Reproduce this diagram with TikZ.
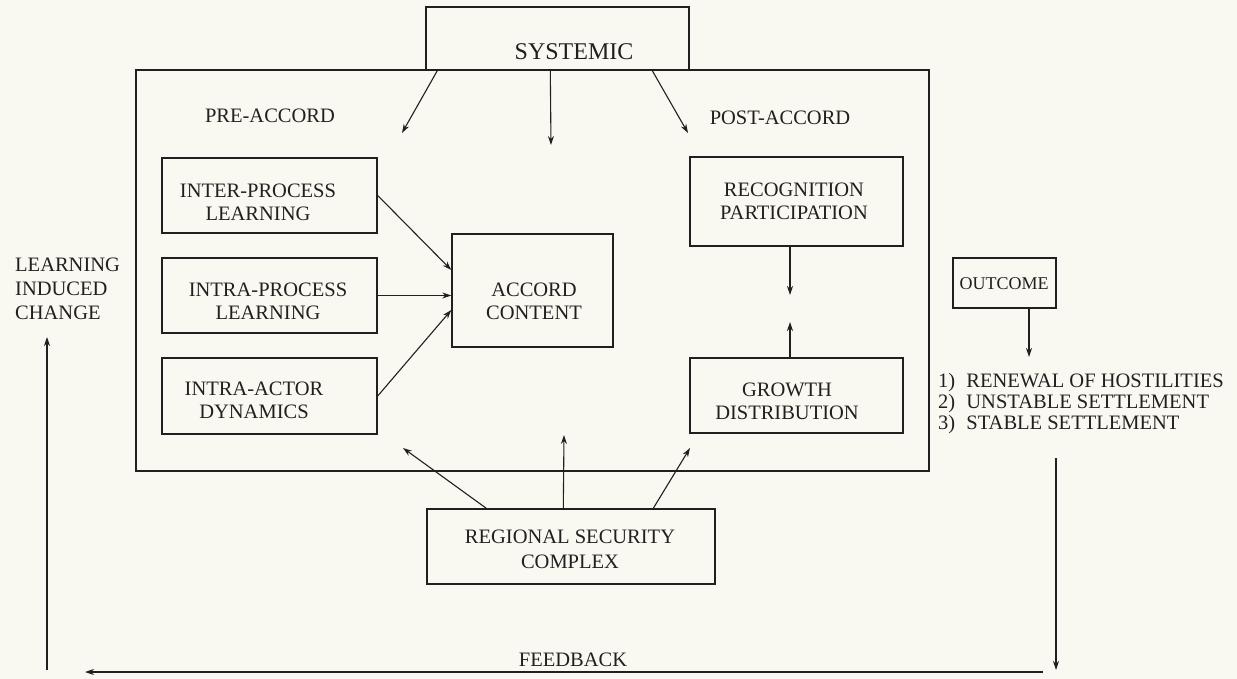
\documentclass[tikz,border=0pt]{standalone}
\usepackage{fontspec}
\setmainfont{Liberation Serif}
\usetikzlibrary{arrows.meta}
\definecolor{paper}{RGB}{250,249,241}
\definecolor{ink}{RGB}{32,32,32}
\begin{document}
\begin{tikzpicture}[x=1pt,y=-1pt,
  box/.style={draw=ink, line width=1.4pt, inner sep=0pt},
  arr/.style={draw=ink, line width=1.1pt, -{Stealth[length=9pt,width=6pt]}},
  lbl/.style={inner sep=0pt, align=center, text=ink, font=\fontsize{20.5}{23}\selectfont},
  lbll/.style={inner sep=0pt, align=left, anchor=west, text=ink, font=\fontsize{20.5}{23}\selectfont}]
\fill[paper] (0,0) rectangle (1237,679);
\useasboundingbox (0,0) rectangle (1237,679);

% outer frame and boxes
\node[box, minimum width=793pt, minimum height=401pt] (frame) at (532.5,270.5) {};
\node[box, minimum width=263pt, minimum height=63pt, fill=paper] (sys) at (557.5,38.5) {};
\node[box, minimum width=215pt, minimum height=75pt] (inter) at (269.5,195.5) {};
\node[box, minimum width=215pt, minimum height=75pt] (intra) at (269.5,295.5) {};
\node[box, minimum width=215pt, minimum height=76pt] (actor) at (269.5,396) {};
\node[box, minimum width=161pt, minimum height=113pt] (accord) at (532.5,290.5) {};
\node[box, minimum width=213pt, minimum height=89pt] (recog) at (796.5,201.5) {};
\node[box, minimum width=213pt, minimum height=75pt] (growth) at (796.5,395.5) {};
\node[box, minimum width=103pt, minimum height=50pt] (outcome) at (1004.5,283) {};
\node[box, minimum width=288pt, minimum height=75pt] (rsc) at (571,546.5) {};

% texts
\node[lbl, font=\fontsize{24}{28}\selectfont] (systxt) at (574,52) {SYSTEMIC};
\node[lbl] (pre) at (270,116) {PRE-ACCORD};
\node[lbl] (post) at (780,118) {POST-ACCORD};
\node[lbl] (intertxt) at (258,202.5) {INTER-PROCESS\\LEARNING};
\node[lbl] (intratxt) at (268,301) {INTRA-PROCESS\\LEARNING};
\node[lbl] (actortxt) at (254,400) {INTRA-ACTOR\\DYNAMICS};
\node[lbl] (accordtxt) at (534,301.5) {ACCORD\\CONTENT};
\node[lbl] (recogtxt) at (794,201.5) {RECOGNITION\\PARTICIPATION};
\node[lbl] (growthtxt) at (787,401) {GROWTH\\DISTRIBUTION};
\node[lbl, font=\fontsize{18}{21}\selectfont] (outcometxt) at (1004,284) {OUTCOME};
\node[lbl, font=\fontsize{20.5}{25}\selectfont] (rsctxt) at (570,549) {REGIONAL SECURITY\\COMPLEX};
\node[lbll, font=\fontsize{20.5}{21}\selectfont] (list) at (938,404) {1)\hspace{6pt} RENEWAL OF HOSTILITIES\\2)\hspace{6pt} UNSTABLE SETTLEMENT\\3)\hspace{6pt} STABLE SETTLEMENT};
\node[lbll, font=\fontsize{20.5}{24}\selectfont] (lic) at (15,289) {LEARNING\\INDUCED\\CHANGE};
\node[lbl] (fb) at (573,660) {FEEDBACK};

% free ends
\coordinate (s1) at (402,133);
\coordinate (s2) at (551,145);
\coordinate (s3) at (688,133);
\coordinate (r1) at (403,448);
\coordinate (r2) at (564,435);
\coordinate (r3) at (690,448);
\coordinate (rp) at (790,295);
\coordinate (gp) at (790,322);
\coordinate (op) at (1029,357);
\coordinate (d1) at (1056,458);
\coordinate (d2) at (1056,670);
\coordinate (f1) at (1043,672);
\coordinate (f2) at (85,672);
\coordinate (u1) at (47,670);
\coordinate (u2) at (47,337);

% systemic arrows
\draw[arr] ([xshift=12pt]sys.south west) -- (s1);
\draw[arr] ([xshift=125pt]sys.south west) -- (s2);
\draw[arr] ([xshift=227pt]sys.south west) -- (s3);

% pre-accord arrows
\draw[arr] (inter.east) -- ([yshift=20.5pt]accord.west);
\draw[arr] (intra.east) -- (intra.east -| accord.west);
\draw[arr] (actor.east) -- ([yshift=-19.5pt]accord.west);

% post-accord arrows
\draw[arr] ([xshift=-6.5pt]recog.south) -- (rp);
\draw[arr] ([xshift=-6.5pt]growth.north) -- (gp);

% regional arrows
\draw[arr] ([xshift=60pt]rsc.north west) -- (r1);
\draw[arr] ([xshift=137pt]rsc.north west) -- (r2);
\draw[arr] ([xshift=227pt]rsc.north west) -- (r3);

% outcome and feedback
\draw[arr] ([xshift=24.5pt]outcome.south) -- (op);
\draw[arr] (d1) -- (d2);
\draw[arr] (f1) -- (f2);
\draw[arr] (u1) -- (u2);
\end{tikzpicture}
\end{document}
